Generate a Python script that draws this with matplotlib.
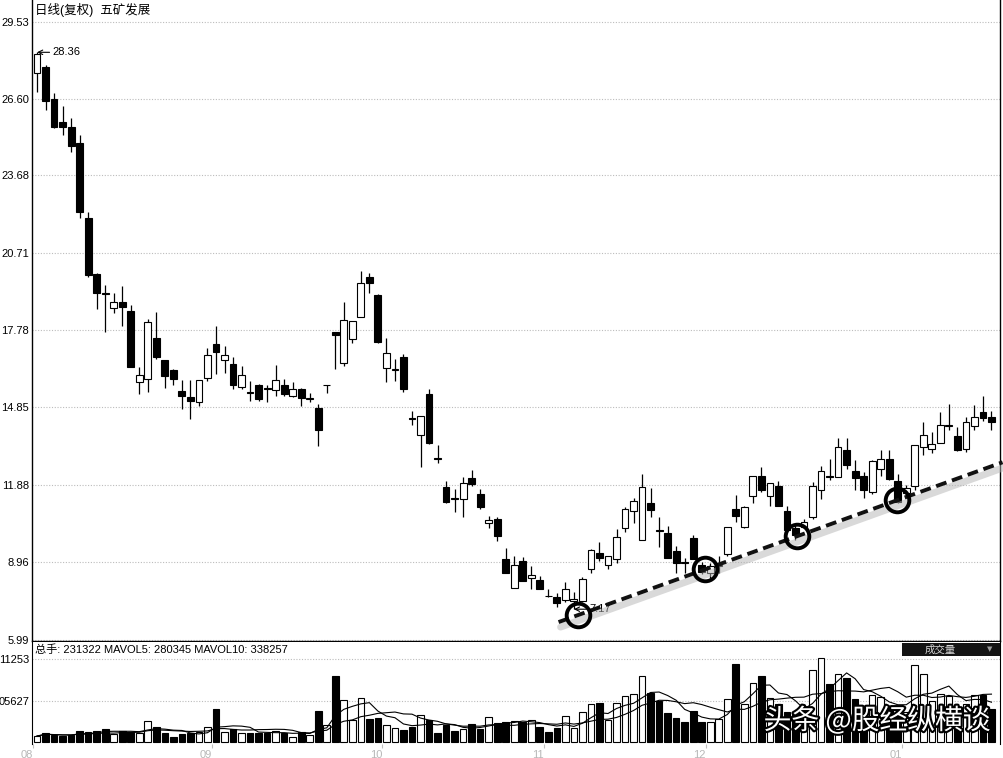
import numpy as np
import pandas as pd
import matplotlib
matplotlib.use('Agg')
import matplotlib.pyplot as plt
from matplotlib import patheffects as pe
from matplotlib import transforms as mtransforms
from matplotlib.patches import Rectangle

# 日线 OHLC
opens = [27.58, 27.80, 26.60, 25.70, 25.52, 24.92, 22.05, 19.93, 19.20, 18.64,
         18.84, 18.53, 15.80, 15.92, 17.50, 16.64, 16.26, 15.46, 15.24, 15.05,
         15.96, 17.25, 16.64, 16.49, 15.61, 15.43, 15.69, 15.58, 15.50, 15.69,
         15.27, 15.54, 15.18, 14.82, 15.70, 17.70, 16.52, 17.44, 18.27, 19.80,
         19.11, 16.34, 16.28, 16.75, 14.45, 13.79, 15.35, 12.92, 11.81, 11.40,
         11.38, 12.16, 11.55, 10.45, 10.60, 9.08, 7.98, 9.00, 8.36, 8.28,
         7.68, 7.62, 7.53, 7.50, 7.49, 8.70, 9.30, 8.85, 9.08, 10.26,
         10.90, 9.80, 11.20, 10.18, 10.07, 9.40, 8.95, 9.87, 8.85, 8.55,
         8.81, 9.27, 10.98, 10.30, 11.47, 12.23, 11.47, 11.85, 10.90, 10.26,
         10.30, 10.67, 11.70, 12.23, 12.20, 13.22, 12.42, 12.23, 11.62, 12.50,
         12.88, 12.04, 11.60, 11.85, 13.33, 13.26, 13.48, 14.13, 13.75, 13.26,
         14.13, 14.66, 14.50]
highs = [28.36, 27.88, 26.83, 26.30, 25.86, 25.20, 22.30, 19.95, 19.50, 19.20,
         19.45, 18.76, 16.37, 18.20, 18.46, 16.64, 16.30, 15.88, 15.88, 15.90,
         17.12, 17.93, 17.17, 16.75, 16.41, 15.84, 15.75, 15.70, 16.45, 15.92,
         15.80, 15.60, 15.40, 14.97, 15.70, 17.72, 18.85, 18.12, 20.02, 19.95,
         19.15, 17.50, 16.68, 16.87, 14.70, 14.51, 15.54, 13.41, 12.04, 11.74,
         12.19, 12.46, 11.74, 10.70, 10.68, 9.50, 9.20, 9.16, 8.81, 8.43,
         7.94, 7.79, 8.20, 7.83, 8.40, 9.46, 9.72, 9.20, 10.22, 11.05,
         11.40, 12.31, 11.77, 10.68, 10.33, 9.57, 9.10, 9.98, 8.95, 8.93,
         9.20, 10.30, 11.50, 11.10, 12.23, 12.57, 11.96, 12.04, 11.10, 10.40,
         10.60, 12.00, 12.60, 12.88, 13.70, 13.70, 12.83, 12.40, 12.85, 13.22,
         13.22, 12.30, 11.90, 13.41, 14.28, 13.90, 14.66, 14.97, 14.09, 14.50,
         14.93, 15.27, 14.70]
lows = [26.86, 26.18, 25.47, 25.20, 24.58, 22.05, 19.80, 18.60, 17.70, 18.43,
        17.93, 16.38, 15.35, 15.42, 16.68, 15.60, 15.70, 14.80, 14.40, 14.90,
        15.84, 16.11, 16.15, 15.54, 15.54, 15.09, 15.10, 15.04, 15.27, 15.27,
        15.24, 14.90, 15.05, 13.37, 15.40, 16.30, 16.41, 17.29, 18.27, 19.20,
        17.30, 15.80, 15.84, 15.42, 14.16, 12.57, 13.45, 12.73, 11.22, 10.87,
        10.68, 11.85, 11.00, 10.26, 9.76, 8.55, 7.98, 8.25, 7.94, 7.94,
        7.62, 7.26, 7.45, 7.17, 7.45, 8.55, 9.00, 8.70, 8.93, 10.10,
        10.45, 9.80, 10.68, 9.55, 9.12, 8.55, 8.55, 9.08, 8.50, 8.35,
        8.55, 9.20, 10.50, 10.25, 11.20, 11.62, 11.10, 11.10, 10.15, 9.80,
        10.30, 10.60, 11.36, 12.10, 12.20, 12.50, 11.70, 11.40, 11.55, 12.23,
        12.10, 11.20, 11.55, 11.70, 13.03, 13.10, 13.48, 14.00, 13.18, 13.15,
        14.00, 14.32, 13.98]
closes = [28.30, 26.50, 25.50, 25.52, 24.80, 22.30, 19.90, 19.20, 19.18, 18.84,
          18.68, 16.40, 16.07, 18.08, 16.75, 16.03, 15.92, 15.27, 15.09, 15.90,
          16.83, 16.94, 16.83, 15.69, 16.07, 15.40, 15.16, 15.54, 15.88, 15.35,
          15.54, 15.20, 15.20, 13.98, 15.70, 17.60, 18.16, 18.12, 19.60, 19.60,
          17.33, 16.91, 16.30, 15.54, 14.42, 14.51, 13.48, 12.88, 11.24, 11.38,
          11.96, 11.93, 11.05, 10.56, 9.95, 8.55, 8.85, 8.25, 8.47, 7.94,
          7.66, 7.41, 7.94, 7.55, 8.32, 9.42, 9.12, 9.20, 9.92, 10.98,
          11.30, 11.81, 10.94, 10.15, 9.12, 8.93, 8.93, 9.08, 8.60, 8.81,
          8.85, 10.30, 10.70, 11.05, 12.23, 11.70, 11.96, 11.10, 10.18, 10.00,
          10.50, 11.85, 12.42, 12.19, 13.33, 12.65, 12.16, 11.70, 12.80, 12.90,
          12.12, 11.26, 11.80, 13.41, 13.79, 13.45, 14.17, 14.17, 13.22, 14.28,
          14.47, 14.43, 14.28]

# 成交量（手）
volumes = [73100, 113300, 85300, 73100, 85300, 137700, 125500, 137700, 154700, 97500,
           137700, 125500, 113300, 259500, 179100, 106000, 64600, 93800, 106000, 121800,
           179100, 402100, 125500, 154700, 106000, 106000, 113300, 106000, 137700, 106000,
           64600, 125500, 85300, 381400, 207100, 804100, 511700, 268000, 532400, 280200,
           292400, 207100, 166900, 152300, 176700, 329000, 268000, 115700, 213200, 134000,
           162000, 216900, 158400, 304600, 227800, 243700, 255900, 243700, 262000, 176700,
           121800, 166900, 316800, 166900, 369200, 459300, 471500, 268000, 471500, 562900,
           584800, 804100, 593400, 499500, 349700, 296100, 247300, 377700, 247300, 240000,
           283900, 523900, 946700, 459300, 722500, 804100, 539800, 459300, 365500, 341200,
           304600, 877200, 1027100, 703000, 824900, 776100, 523900, 365500, 572600, 551900,
           430100, 349700, 365500, 938200, 824900, 499500, 581200, 564100, 417900, 459300,
           572600, 572600, 402100]

price_ticks = [5.99, 8.96, 11.88, 14.85, 17.78, 20.71, 23.68, 26.60, 29.53]
price_labels = ['5.99', '8.96', '11.88', '14.85', '17.78', '20.71', '23.68', '26.60', '29.53']
vol_ticks = [505627, 1011253]
vol_labels = ['05627', '11253']
month_start = [0, 21, 41, 60, 79, 102]
month_labels = ['08', '09', '10', '11', '12', '01']

# 趋势线两端（K线序号, 价格）与圆圈所在的K线序号
trend_x = [61.2, 113.3]
trend_y = [6.68, 12.76]
circle_x = [63.5, 78.4, 89.2, 100.9]

plt.rcParams['font.family'] = ['Liberation Sans', 'Noto Sans CJK SC', 'DejaVu Sans']

o = np.array(opens)
h = np.array(highs)
l = np.array(lows)
c = np.array(closes)
v = np.array(volumes)
x = np.arange(len(o))
up = c >= o
face = np.where(up, 'white', 'black')

W, H = 1004, 758
fig = plt.figure(figsize=(W / 100, H / 100), dpi=100)
ax = fig.add_axes([32 / W, 1 - 641 / H, 968 / W, 641 / H])
axv = fig.add_axes([32 / W, 1 - 744 / H, 968 / W, 102 / H])

# K线
ax.vlines(x, l, h, color='black', lw=0.9, zorder=2)
ax.bar(x, np.maximum(np.abs(c - o), 0.001), bottom=np.minimum(o, c), width=0.8,
       color=face, edgecolor='black', linewidth=0.8, zorder=3)

ax.set_xlim(-0.59, 113.0)
ax.set_ylim(5.96, 30.35)
ax.set_yticks(price_ticks)
ax.set_yticklabels(price_labels)
ax.grid(axis='y', linestyle=(0, (1, 1.5)), color='#bcbcbc', lw=0.8, zorder=0)
ax.tick_params(axis='y', length=0, pad=2, labelsize=8)
ax.tick_params(axis='x', bottom=False, labelbottom=False)
ax.spines['top'].set_visible(False)
for s in ['left', 'right', 'bottom']:
    ax.spines[s].set_linewidth(1.0)

# 最高/最低价标注
i_hi = int(np.argmax(h))
ax.annotate('%.2f' % h[i_hi], xy=(i_hi, h[i_hi]), xytext=(11, 0), textcoords='offset points',
            fontsize=8, va='center', ha='left',
            arrowprops=dict(arrowstyle='->', lw=0.8, color='black', shrinkA=0, shrinkB=0))
i_lo = int(np.argmin(l))
ax.annotate('%.2f' % l[i_lo], xy=(i_lo, l[i_lo]), xytext=(11, 0), textcoords='offset points',
            fontsize=8, va='center', ha='left', zorder=4,
            arrowprops=dict(arrowstyle='->', lw=0.8, color='black', shrinkA=0, shrinkB=0))

# 趋势线 + 阴影
shadow_tr = mtransforms.offset_copy(ax.transData, fig=fig, x=2, y=-5, units='dots')
ax.plot(trend_x, trend_y, color='#b4b4b4', lw=5, alpha=0.5, transform=shadow_tr,
        solid_capstyle='round', zorder=4, clip_on=False)
ax.plot(trend_x, trend_y, color='#111111', lw=2.8, linestyle=(0, (2.8, 1.5)), zorder=5, clip_on=False)
cy = np.interp(circle_x, trend_x, trend_y)
ax.plot(circle_x, cy, 'o', ms=17, mfc='none', mec='black', mew=2.8, zorder=6)

fig.text(35 / W, 1 - 10 / H, '日线(复权)  五矿发展', fontsize=9, va='center', ha='left')

# 成交量
axv.bar(x, v, width=0.78, color=face, edgecolor='black', linewidth=0.8, zorder=3)
ma5 = pd.Series(v).rolling(5, min_periods=1).mean()
ma10 = pd.Series(v).rolling(10, min_periods=1).mean()
axv.plot(x, ma5, color='black', lw=0.8, zorder=4)
axv.plot(x, ma10, color='black', lw=0.8, zorder=4)
axv.set_xlim(-0.59, 113.0)
axv.set_ylim(-24368, 1218400)
axv.set_yticks(vol_ticks)
axv.set_yticklabels(vol_labels)
axv.grid(axis='y', linestyle=(0, (1, 1.5)), color='#bcbcbc', lw=0.8, zorder=0)
axv.tick_params(axis='y', length=0, pad=2, labelsize=8)
axv.set_xticks(np.array(month_start) - 0.5)
axv.set_xticklabels(month_labels)
axv.tick_params(axis='x', length=3, pad=1, labelsize=8, color='#c0c0c0', labelcolor='#b8b8b8')
for lbl in axv.get_xticklabels():
    lbl.set_ha('right')
axv.spines['top'].set_visible(False)
axv.spines['bottom'].set_visible(False)

fig.text(35 / W, 1 - 650 / H, '总手: 231322 MAVOL5: 280345 MAVOL10: 338257',
         fontsize=8, va='center', ha='left')

# 成交量 下拉框
fig.patches.append(Rectangle((902 / W, 1 - 656 / H), 98 / W, 13 / H, transform=fig.transFigure,
                             facecolor='#141414', edgecolor='none', zorder=5))
fig.text(940 / W, 1 - 649.5 / H, '成交量', fontsize=7.5, color='#d8d8d8', ha='center', va='center', zorder=6)
fig.text(990 / W, 1 - 649.5 / H, '▼', fontsize=5, color='#9a9a9a', ha='center', va='center',
         family=['DejaVu Sans'], zorder=6)

# 水印
fig.text(877 / W, 1 - 721 / H, '头条 @股经纵横谈', fontsize=20, color='white', ha='center', va='center',
         family=['Noto Sans CJK SC', 'DejaVu Sans'], zorder=10,
         path_effects=[pe.withStroke(linewidth=3, foreground='black')])

fig.savefig('out.png', dpi=100)
